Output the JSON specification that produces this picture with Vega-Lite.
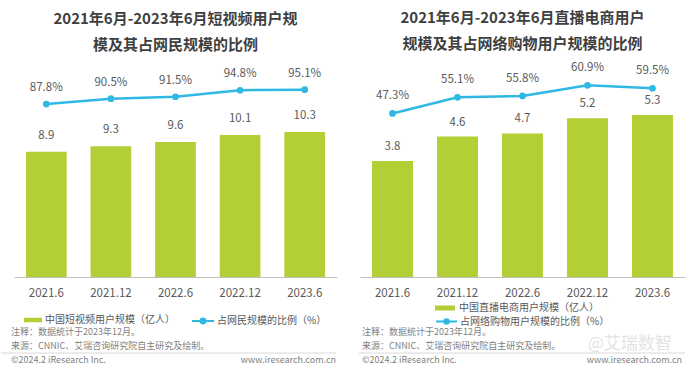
{
  "$schema": "https://vega.github.io/schema/vega-lite/v6.json",
  "background": "white",
  "padding": {"left": 0, "top": 11, "right": 0, "bottom": 0},
  "config": {
    "font": "Noto Sans CJK SC",
    "view": {"stroke": null},
    "title": {"font": "Noto Sans CJK SC", "fontSize": 15, "fontWeight": "bold", "color": "#3f3f3f", "lineHeight": 26, "anchor": "middle"}
  },
  "spacing": 21,
  "resolve": {"scale": {"fill": "independent", "stroke": "independent"}, "legend": {"fill": "independent", "stroke": "independent"}},
  "hconcat": [
    {
      "width": 323,
      "height": 197,
      "title": {"text": ["2021年6月-2023年6月短视频用户规", "模及其占网民规模的比例"], "offset": 15},
      "layer": [
        {
          "data": {"values": [
            {"period": "2021.6", "users": 8.9, "pct": 0.878},
            {"period": "2021.12", "users": 9.3, "pct": 0.905},
            {"period": "2022.6", "users": 9.6, "pct": 0.915},
            {"period": "2022.12", "users": 10.1, "pct": 0.948},
            {"period": "2023.6", "users": 10.3, "pct": 0.951}
          ]},
          "encoding": {
            "x": {"field": "period", "type": "ordinal", "sort": null,
              "scale": {"paddingInner": 0.37, "paddingOuter": 0.185},
              "axis": {"title": null, "ticks": false, "labelAngle": 0, "labelPadding": 10, "labelFontSize": 11.5, "labelColor": "#595959", "domainColor": "#bfbfbf", "grid": false, "labelFont": "Noto Sans CJK SC"}}
          },
          "layer": [
            {
              "mark": {"type": "bar"},
              "encoding": {
                "y": {"field": "users", "type": "quantitative", "scale": {"domain": [0, 14], "nice": false}, "axis": null},
                "fill": {"datum": "中国短视频用户规模（亿人）", "type": "nominal", "scale": {"range": ["#b2cf36"]},
                  "legend": {"title": null, "orient": "none", "legendX": 10, "legendY": 231, "padding": 0, "labelFontSize": 10, "labelColor": "#595959", "labelOffset": 3, "symbolType": "M-1,-0.25H1V0.25H-1Z", "symbolSize": 324, "symbolStrokeWidth": 0}}
              }
            },
            {
              "mark": {"type": "text", "dy": -16, "baseline": "middle", "fontSize": 11.5, "color": "#595959"},
              "encoding": {
                "y": {"field": "users", "type": "quantitative", "scale": {"domain": [0, 14], "nice": false}, "axis": null},
                "text": {"field": "users", "type": "quantitative", "format": ".1f"}
              }
            },
            {
              "mark": {"type": "line", "strokeWidth": 2.5},
              "encoding": {
                "y": {"field": "pct", "type": "quantitative", "scale": {"domain": [0, 1], "nice": false}, "axis": null},
                "stroke": {"datum": "占网民规模的比例（%）", "type": "nominal", "scale": {"range": ["#2fb8e3"]},
                  "legend": {"title": null, "orient": "none", "legendX": 177, "legendY": 229, "padding": 0, "labelFontSize": 10, "labelColor": "#595959", "labelOffset": 2, "symbolType": "M-1,0H1M0.22,0A0.22,0.22,0,1,1,-0.22,0A0.22,0.22,0,1,1,0.22,0", "symbolSize": 484, "symbolStrokeWidth": 2, "symbolFillColor": "#2fb8e3"}}
              }
            },
            {
              "mark": {"type": "point", "filled": true, "size": 45, "color": "#2fb8e3", "opacity": 1},
              "encoding": {
                "y": {"field": "pct", "type": "quantitative", "scale": {"domain": [0, 1], "nice": false}, "axis": null}
              }
            },
            {
              "mark": {"type": "text", "dy": -16, "baseline": "middle", "fontSize": 11.5, "color": "#595959"},
              "encoding": {
                "y": {"field": "pct", "type": "quantitative", "scale": {"domain": [0, 1], "nice": false}, "axis": null},
                "text": {"field": "pct", "type": "quantitative", "format": ".1%"}
              }
            }
          ],
          "resolve": {"scale": {"y": "independent"}}
        },
        {
          "data": {"values": [
            {"line": 1, "note": "注释：数据统计于2023年12月。"},
            {"line": 2, "note": "来源：CNNIC、艾瑞咨询研究院自主研究及绘制。"},
            {"line": 3, "note": "©2024.2 iResearch Inc."}
          ]},
          "layer": [
            {
              "mark": {"type": "text", "align": "left", "baseline": "middle", "dx": -3, "fontSize": 9, "color": "#7f7f7f"},
              "encoding": {
                "x": {"datum": 0, "type": "quantitative", "scale": {"domain": [0, 1], "nice": false}, "axis": null},
                "y": {"field": "line", "type": "quantitative", "scale": {"domain": [-17, -2.93], "nice": false, "zero": false, "reverse": true}, "axis": null},
                "text": {"field": "note", "type": "nominal"}
              }
            },
            {
              "data": {"values": [{"line": 3, "note": "www.iresearch.com.cn"}]},
              "mark": {"type": "text", "align": "right", "baseline": "middle", "dx": -1, "fontSize": 9, "color": "#7f7f7f"},
              "encoding": {
                "x": {"datum": 1, "type": "quantitative", "scale": {"domain": [0, 1], "nice": false}, "axis": null},
                "y": {"field": "line", "type": "quantitative", "scale": {"domain": [-17, -2.93], "nice": false, "zero": false, "reverse": true}, "axis": null},
                "text": {"field": "note", "type": "nominal"}
              }
            },
            {
              "data": {"values": [{"line": 2.5}]},
              "mark": {"type": "rule", "xOffset": -13, "x2Offset": -1, "color": "#d9d9d9", "strokeWidth": 1},
              "encoding": {
                "x": {"datum": 0, "type": "quantitative", "scale": {"domain": [0, 1], "nice": false}, "axis": null},
                "x2": {"datum": 1},
                "y": {"field": "line", "type": "quantitative", "scale": {"domain": [-17, -2.93], "nice": false, "zero": false, "reverse": true}, "axis": null}
              }
            }
          ]
        }
      ],
      "resolve": {"scale": {"x": "independent", "y": "independent"}}
    },
    {
      "width": 325,
      "height": 197,
      "title": {"text": ["2021年6月-2023年6月直播电商用户", "规模及其占网络购物用户规模的比例"], "offset": 10},
      "layer": [
        {
          "data": {"values": [
            {"period": "2021.6", "users": 3.8, "pct": 0.473},
            {"period": "2021.12", "users": 4.6, "pct": 0.551},
            {"period": "2022.6", "users": 4.7, "pct": 0.558},
            {"period": "2022.12", "users": 5.2, "pct": 0.609},
            {"period": "2023.6", "users": 5.3, "pct": 0.595}
          ]},
          "encoding": {
            "x": {"field": "period", "type": "ordinal", "sort": null,
              "scale": {"paddingInner": 0.37, "paddingOuter": 0.185},
              "axis": {"title": null, "ticks": false, "labelAngle": 0, "labelPadding": 10, "labelFontSize": 11.5, "labelColor": "#595959", "domainColor": "#bfbfbf", "grid": false, "labelFont": "Noto Sans CJK SC"}}
          },
          "layer": [
            {
              "mark": {"type": "bar"},
              "encoding": {
                "y": {"field": "users", "type": "quantitative", "scale": {"domain": [0, 6.45], "nice": false}, "axis": null},
                "fill": {"datum": "中国直播电商用户规模（亿人）", "type": "nominal", "scale": {"range": ["#b2cf36"]},
                  "legend": {"title": null, "orient": "none", "legendX": 75, "legendY": 218, "padding": 0, "labelFontSize": 10, "labelColor": "#595959", "labelOffset": 4, "symbolType": "M-1,-0.25H1V0.25H-1Z", "symbolSize": 400, "symbolStrokeWidth": 0}}
              }
            },
            {
              "mark": {"type": "text", "dy": -14, "baseline": "middle", "fontSize": 11.5, "color": "#595959"},
              "encoding": {
                "y": {"field": "users", "type": "quantitative", "scale": {"domain": [0, 6.45], "nice": false}, "axis": null},
                "text": {"field": "users", "type": "quantitative", "format": ".1f"}
              }
            },
            {
              "mark": {"type": "line", "strokeWidth": 2.5},
              "encoding": {
                "y": {"field": "pct", "type": "quantitative", "scale": {"domain": [-0.32, 0.635], "nice": false, "zero": false}, "axis": null},
                "stroke": {"datum": "占网络购物用户规模的比例（%）", "type": "nominal", "scale": {"range": ["#2fb8e3"]},
                  "legend": {"title": null, "orient": "none", "legendX": 75, "legendY": 230, "padding": 0, "labelFontSize": 10, "labelColor": "#595959", "labelOffset": 2, "symbolType": "M-1,0H1M0.22,0A0.22,0.22,0,1,1,-0.22,0A0.22,0.22,0,1,1,0.22,0", "symbolSize": 441, "symbolStrokeWidth": 2, "symbolFillColor": "#2fb8e3"}}
              }
            },
            {
              "mark": {"type": "point", "filled": true, "size": 45, "color": "#2fb8e3", "opacity": 1},
              "encoding": {
                "y": {"field": "pct", "type": "quantitative", "scale": {"domain": [-0.32, 0.635], "nice": false, "zero": false}, "axis": null}
              }
            },
            {
              "mark": {"type": "text", "dy": -17, "baseline": "middle", "fontSize": 11.5, "color": "#595959"},
              "encoding": {
                "y": {"field": "pct", "type": "quantitative", "scale": {"domain": [-0.32, 0.635], "nice": false, "zero": false}, "axis": null},
                "text": {"field": "pct", "type": "quantitative", "format": ".1%"}
              }
            }
          ],
          "resolve": {"scale": {"y": "independent"}}
        },
        {
          "data": {"values": [
            {"line": 1, "note": "注释：数据统计于2023年12月。"},
            {"line": 2, "note": "来源：CNNIC、艾瑞咨询研究院自主研究及绘制。"},
            {"line": 3, "note": "©2024.2 iResearch Inc."}
          ]},
          "layer": [
            {
              "mark": {"type": "text", "align": "left", "baseline": "middle", "dx": 2, "fontSize": 9, "color": "#7f7f7f"},
              "encoding": {
                "x": {"datum": 0, "type": "quantitative", "scale": {"domain": [0, 1], "nice": false}, "axis": null},
                "y": {"field": "line", "type": "quantitative", "scale": {"domain": [-17, -2.93], "nice": false, "zero": false, "reverse": true}, "axis": null},
                "text": {"field": "note", "type": "nominal"}
              }
            },
            {
              "data": {"values": [{"line": 3, "note": "www.iresearch.com.cn"}]},
              "mark": {"type": "text", "align": "right", "baseline": "middle", "dx": -3, "fontSize": 9, "color": "#7f7f7f"},
              "encoding": {
                "x": {"datum": 1, "type": "quantitative", "scale": {"domain": [0, 1], "nice": false}, "axis": null},
                "y": {"field": "line", "type": "quantitative", "scale": {"domain": [-17, -2.93], "nice": false, "zero": false, "reverse": true}, "axis": null},
                "text": {"field": "note", "type": "nominal"}
              }
            },
            {
              "data": {"values": [{"line": 1.85, "note": "@艾瑞数智"}]},
              "mark": {"type": "text", "align": "center", "baseline": "middle", "fontSize": 17, "color": "#e3e3e3"},
              "encoding": {
                "x": {"datum": 0.83, "type": "quantitative", "scale": {"domain": [0, 1], "nice": false}, "axis": null},
                "y": {"field": "line", "type": "quantitative", "scale": {"domain": [-17, -2.93], "nice": false, "zero": false, "reverse": true}, "axis": null},
                "text": {"field": "note", "type": "nominal"}
              }
            },
            {
              "data": {"values": [{"line": 2.5}]},
              "mark": {"type": "rule", "xOffset": -1, "x2Offset": 0, "color": "#d9d9d9", "strokeWidth": 1},
              "encoding": {
                "x": {"datum": 0, "type": "quantitative", "scale": {"domain": [0, 1], "nice": false}, "axis": null},
                "x2": {"datum": 1},
                "y": {"field": "line", "type": "quantitative", "scale": {"domain": [-17, -2.93], "nice": false, "zero": false, "reverse": true}, "axis": null}
              }
            }
          ]
        }
      ],
      "resolve": {"scale": {"x": "independent", "y": "independent"}}
    }
  ]
}
